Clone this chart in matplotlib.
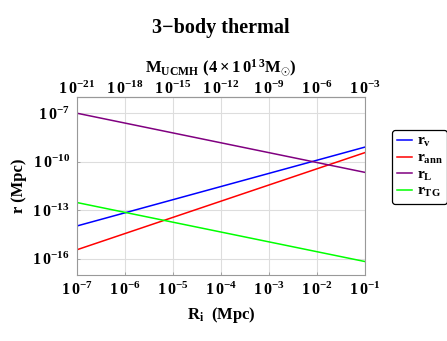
import numpy as np
from matplotlib import pyplot as plt

plt.rcParams['font.family'] = 'Liberation Serif'
plt.rcParams['font.weight'] = 'bold'
plt.rcParams['axes.labelweight'] = 'bold'
plt.rcParams['mathtext.fontset'] = 'custom'
plt.rcParams['mathtext.rm'] = 'Liberation Serif:bold'
plt.rcParams['mathtext.it'] = 'Liberation Serif:bold'
plt.rcParams['mathtext.bf'] = 'Liberation Serif:bold'
plt.rcParams['mathtext.default'] = 'bf'

# power laws, so two end points per line (log-log straight lines)
R = np.array([1e-7, 1e-1])
r_v = np.array([10**-13.97, 10**-9.09])
r_ann = np.array([10**-15.44, 10**-9.43])
r_L = np.array([10**-7.0, 10**-10.66])
r_TG = np.array([10**-12.52, 10**-16.17])

x_ticks = [1e-7, 1e-6, 1e-5, 1e-4, 1e-3, 1e-2, 1e-1]
x_labels = [r'$1\,0^{-7}$', r'$1\,0^{-6}$', r'$1\,0^{-5}$', r'$1\,0^{-4}$', r'$1\,0^{-3}$', r'$1\,0^{-2}$', r'$1\,0^{-1}$']
y_ticks = [1e-16, 1e-13, 1e-10, 1e-7]
y_labels = [r'$1\,0^{-16}$', r'$1\,0^{-13}$', r'$1\,0^{-10}$', r'$1\,0^{-7}$']
m_ticks = [1e-21, 1e-18, 1e-15, 1e-12, 1e-9, 1e-6, 1e-3]
m_labels = [r'$1\,0^{-21}$', r'$1\,0^{-18}$', r'$1\,0^{-15}$', r'$1\,0^{-12}$', r'$1\,0^{-9}$', r'$1\,0^{-6}$', r'$1\,0^{-3}$']

fig = plt.figure(figsize=(4.47, 3.41), dpi=100)
ax = fig.add_axes([0.172, 0.1935, 0.645, 0.522])

ax.plot(R, r_v, color='#0000ff', lw=1.1, label=r'$r_v$')
ax.plot(R, r_ann, color='#ff0000', lw=1.1, label=r'$r_{ann}$')
ax.plot(R, r_L, color='#800080', lw=1.1, label=r'$r_L$')
ax.plot(R, r_TG, color='#00ff00', lw=1.1, label=r'$r_{TG}$')

ax.set_xscale('log')
ax.set_yscale('log')
ax.set_xlim(1e-7, 1e-1)
ax.set_ylim(1e-17, 1e-6)
ax.set_xticks(x_ticks, x_labels)
ax.set_yticks(y_ticks, y_labels)
ax.minorticks_off()
ax.tick_params(labelsize=11.5, length=2, width=0.6, color='#999999', direction='in', pad=5)
ax.grid(True, color='#dddddd', lw=0.8)
for s in ax.spines.values():
    s.set_color('#999999')
    s.set_linewidth(0.8)

sec = ax.secondary_xaxis('top', functions=(lambda r: r**3, lambda m: np.cbrt(m)))
sec.set_xticks(m_ticks, m_labels)
sec.minorticks_off()
sec.tick_params(labelsize=11.5, length=0, pad=-1)
sec.spines['top'].set_color('#999999')
sec.set_xlabel(r'$M_{UCMH}\ (4\times 1\,0^{1\,3}M_{\odot})$', fontsize=12, labelpad=6)

ax.set_xlabel(r'$R_i$  (Mpc)', fontsize=12, labelpad=4)
ax.set_ylabel('r (Mpc)', fontsize=12, labelpad=4)
fig.text(0.493, 0.918, '3\u2212body thermal', ha='center', va='center', fontsize=14.5, fontweight='bold')

leg = ax.legend(loc='upper left', bbox_to_anchor=(1.094, 0.815), fontsize=11, frameon=True,
                fancybox=True, edgecolor='black', handlelength=1.0, handletextpad=0.3,
                borderpad=0.3, labelspacing=0.12, borderaxespad=0)
leg.get_frame().set_linewidth(0.9)
leg.get_frame().set_alpha(1)

fig.savefig('out.png', dpi=100)
